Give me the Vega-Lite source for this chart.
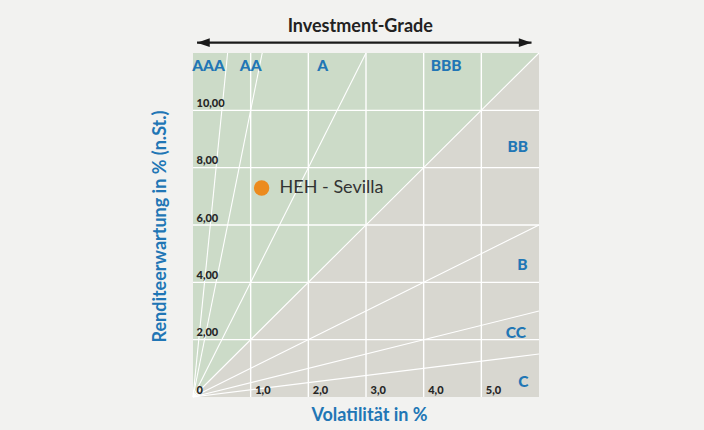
{
  "$schema": "https://vega.github.io/schema/vega-lite/v6.json",
  "width": 346,
  "height": 344,
  "autosize": {"type": "none"},
  "padding": {"left": 193, "top": 53, "right": 165, "bottom": 33},
  "background": "#f2f2f0",
  "config": {"view": {"fill": "#d8d7d0", "stroke": null}, "font": "Lato"},
  "encoding": {
    "x": {
      "field": "x", "type": "quantitative",
      "scale": {"domain": [0, 6], "nice": false, "zero": false},
      "axis": {
        "title": "Volatilität in %", "values": [1, 2, 3, 4, 5], "zindex": 1,
        "labelExpr": "replace(format(datum.value,'.1f'),'.',',')",
        "grid": false, "domain": false, "ticks": false,
        "labelAlign": "left", "labelBaseline": "alphabetic", "labelPadding": -4, "labelOffset": 4,
        "labelOverlap": false, "labelFlush": false,
        "labelFont": "Lato", "labelFontWeight": 900, "labelFontSize": 11, "labelColor": "#262626",
        "titleFont": "Lato", "titleFontWeight": "bold", "titleFontSize": 18, "titleColor": "#2176b5",
        "titleX": 176, "titleY": 23, "titleBaseline": "alphabetic", "titleAlign": "center"
      }
    },
    "y": {
      "field": "y", "type": "quantitative",
      "scale": {"domain": [0, 12], "nice": false, "zero": false},
      "axis": {
        "title": "Renditeerwartung in % (n.St.)", "values": [0, 2, 4, 6, 8, 10], "zindex": 1,
        "labelExpr": "datum.value == 0 ? '0' : replace(format(datum.value,'.2f'),'.',',')",
        "grid": false, "domain": false, "ticks": false,
        "labelAlign": "left", "labelBaseline": "alphabetic", "labelPadding": -3, "labelOffset": -4,
        "labelOverlap": false, "labelFlush": false,
        "labelFont": "Lato", "labelFontWeight": 900, "labelFontSize": 11, "labelColor": "#262626",
        "titleFont": "Lato", "titleFontWeight": "bold", "titleFontSize": 18, "titleColor": "#2176b5",
        "titleX": -33, "titleY": 173, "titleAngle": -90, "titleBaseline": "middle", "titleAlign": "center"
      }
    }
  },
  "layer": [
    {
      "data": {"values": [{"x": 0, "y": 0, "y2": 12}, {"x": 6, "y": 12, "y2": 12}]},
      "mark": {"type": "area", "color": "#ccdbc8", "opacity": 1},
      "encoding": {"y2": {"field": "y2"}}
    },
    {
      "data": {"values": [
        {"x": 1, "y": 0, "x2": 1, "y2": 12}, {"x": 2, "y": 0, "x2": 2, "y2": 12},
        {"x": 3, "y": 0, "x2": 3, "y2": 12}, {"x": 4, "y": 0, "x2": 4, "y2": 12},
        {"x": 5, "y": 0, "x2": 5, "y2": 12},
        {"x": 0, "y": 2, "x2": 6, "y2": 2}, {"x": 0, "y": 4, "x2": 6, "y2": 4},
        {"x": 0, "y": 6, "x2": 6, "y2": 6}, {"x": 0, "y": 8, "x2": 6, "y2": 8},
        {"x": 0, "y": 10, "x2": 6, "y2": 10}
      ]},
      "mark": {"type": "rule", "color": "#ffffff", "strokeWidth": 1.4},
      "encoding": {"x2": {"field": "x2"}, "y2": {"field": "y2"}}
    },
    {
      "data": {"values": [
        {"x": 0, "y": 0, "x2": 0.6, "y2": 12}, {"x": 0, "y": 0, "x2": 1.2, "y2": 12},
        {"x": 0, "y": 0, "x2": 3, "y2": 12}, {"x": 0, "y": 0, "x2": 6, "y2": 12},
        {"x": 0, "y": 0, "x2": 6, "y2": 6}, {"x": 0, "y": 0, "x2": 6, "y2": 3},
        {"x": 0, "y": 0, "x2": 6, "y2": 1.5}
      ]},
      "mark": {"type": "rule", "color": "#ffffff", "strokeWidth": 1.1},
      "encoding": {"x2": {"field": "x2"}, "y2": {"field": "y2"}}
    },
    {
      "data": {"values": [
        {"x": 0.27, "y": 11.56, "label": "AAA"}, {"x": 1.0, "y": 11.56, "label": "AA"},
        {"x": 2.25, "y": 11.56, "label": "A"}, {"x": 4.39, "y": 11.56, "label": "BBB"},
        {"x": 5.63, "y": 8.73, "label": "BB"}, {"x": 5.71, "y": 4.59, "label": "B"},
        {"x": 5.6, "y": 2.22, "label": "CC"}, {"x": 5.73, "y": 0.53, "label": "C"}
      ]},
      "mark": {"type": "text", "font": "Lato", "fontWeight": 900, "fontSize": 15.5, "color": "#2176b5", "align": "center", "baseline": "middle"},
      "encoding": {"text": {"field": "label"}}
    },
    {
      "data": {"values": [{"x": 1.19, "y": 7.29, "name": "HEH - Sevilla"}]},
      "mark": {"type": "point", "shape": "circle", "filled": true, "opacity": 1, "size": 238, "color": "#ec8b1e"}
    },
    {
      "data": {"values": [{"x": 1.19, "y": 7.29, "name": "HEH - Sevilla"}]},
      "mark": {"type": "text", "font": "Lato", "fontSize": 18, "color": "#333333", "align": "left", "baseline": "middle", "dx": 18},
      "encoding": {"text": {"field": "name"}}
    },
    {
      "data": {"values": [{"x": 2.9, "y": 12.9, "label": "Investment-Grade"}]},
      "mark": {"type": "text", "font": "Lato", "fontWeight": "bold", "fontSize": 18, "color": "#222222", "align": "center", "baseline": "middle"},
      "encoding": {"text": {"field": "label"}}
    },
    {
      "data": {"values": [{"x": 0.07, "y": 12.36, "x2": 5.87}]},
      "mark": {"type": "rule", "color": "#1a1a1a", "strokeWidth": 2.3},
      "encoding": {"x2": {"field": "x2"}}
    },
    {
      "data": {"values": [{"x": 0.07, "y": 12.36}]},
      "mark": {"type": "point", "shape": "M0,0L2,-0.7L2,0.7Z", "filled": true, "opacity": 1, "size": 161, "color": "#1a1a1a"}
    },
    {
      "data": {"values": [{"x": 5.87, "y": 12.36}]},
      "mark": {"type": "point", "shape": "M0,0L-2,-0.7L-2,0.7Z", "filled": true, "opacity": 1, "size": 161, "color": "#1a1a1a"}
    }
  ]
}
